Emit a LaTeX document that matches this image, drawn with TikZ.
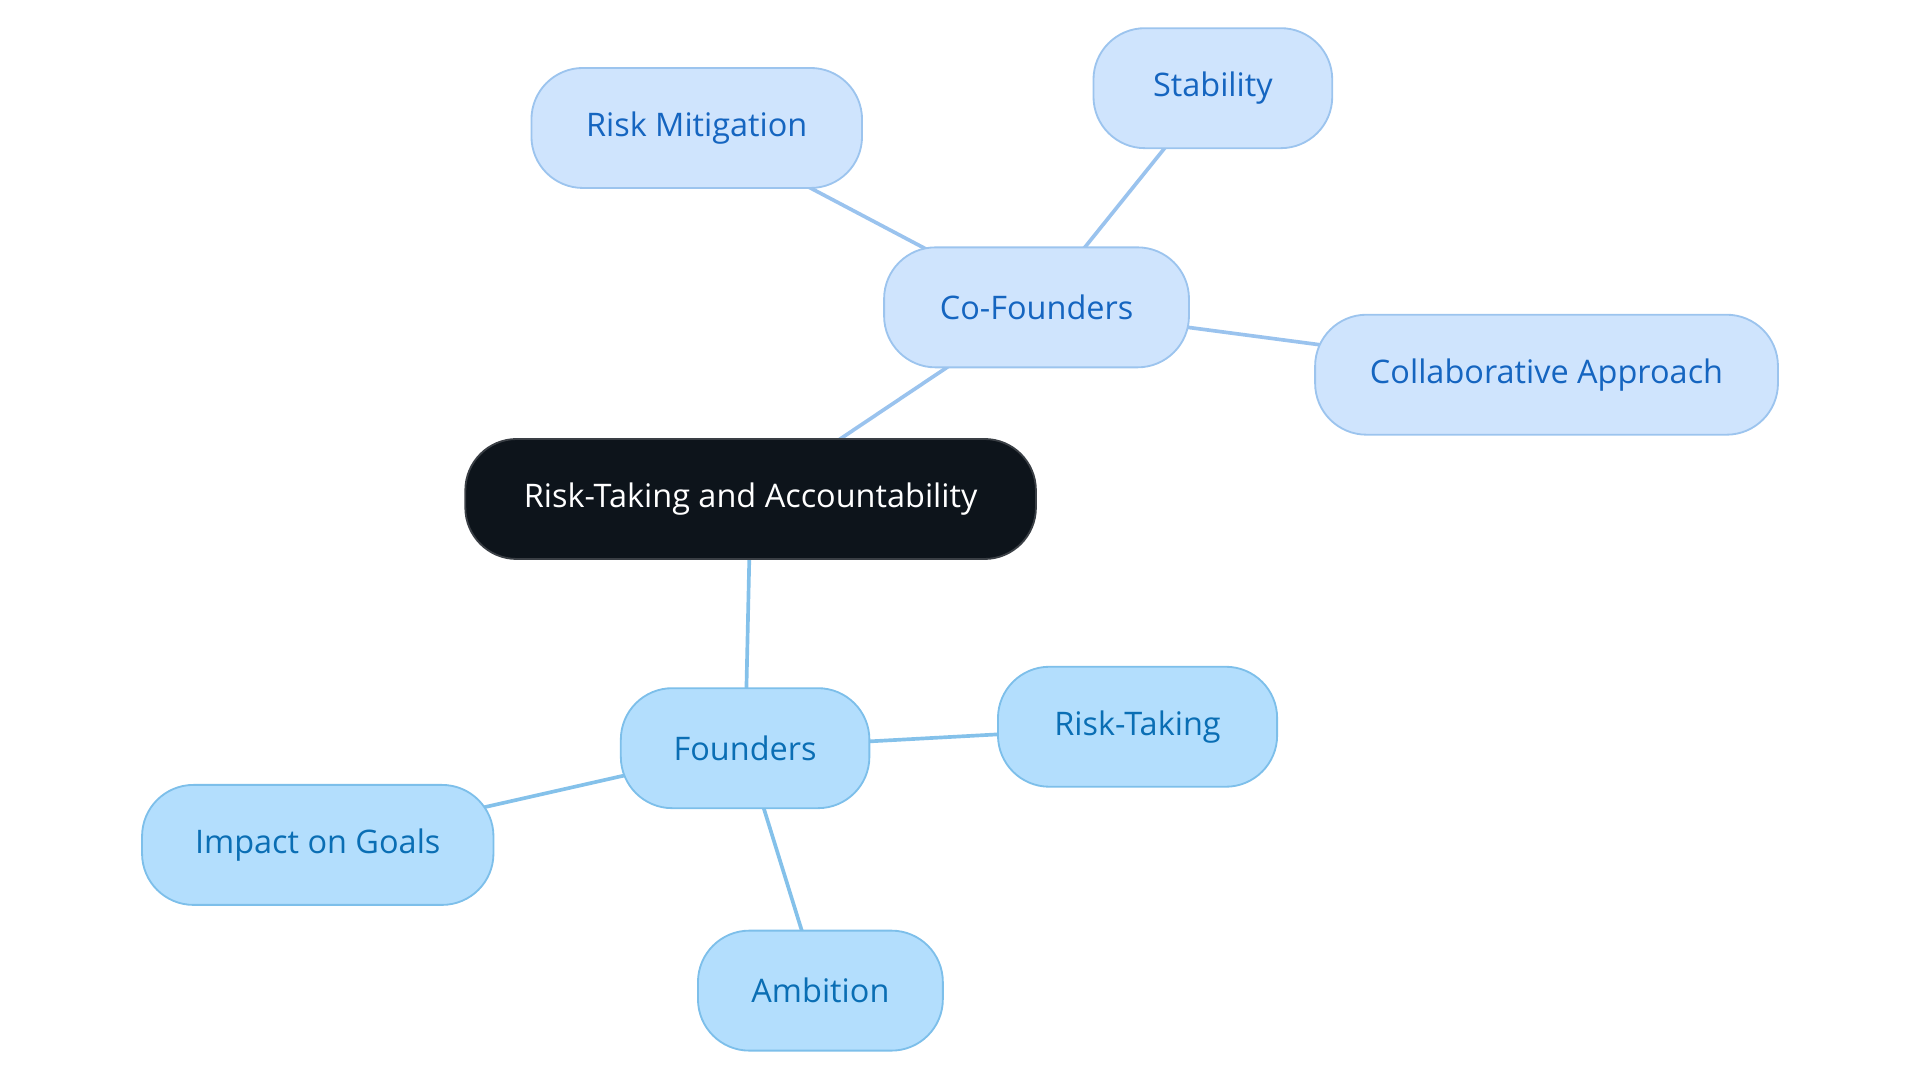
\documentclass[tikz,border=0pt]{standalone}
\usepackage{fontspec}
\setmainfont{Open Sans}
\usetikzlibrary{backgrounds}
\definecolor{rootfill}{HTML}{0D141B}
\definecolor{rootdraw}{HTML}{3A3F45}
\definecolor{cofill}{HTML}{CFE4FD}
\definecolor{codraw}{HTML}{9CC4EE}
\definecolor{cotext}{HTML}{1565C0}
\definecolor{fofill}{HTML}{B3DEFD}
\definecolor{fodraw}{HTML}{7DBFEA}
\definecolor{fotext}{HTML}{0A6EB4}
\definecolor{coline}{HTML}{9AC3EE}
\definecolor{foline}{HTML}{84C1EA}
\begin{document}
\begin{tikzpicture}[x=1pt,y=-1pt,
  box/.style={rectangle, rounded corners=42pt, minimum height=98pt, line width=1.5pt,
    font=\fontsize{26.5}{30}\selectfont, inner sep=0pt},
  rootbox/.style={box, fill=rootfill, draw=rootdraw, text=white},
  cobox/.style={box, fill=cofill, draw=codraw, text=cotext},
  fobox/.style={box, fill=fofill, draw=fodraw, text=fotext},
  coedge/.style={draw=coline, line width=3pt},
  foedge/.style={draw=foline, line width=3pt}]
\useasboundingbox (0,0) rectangle (1568,884.4);
\node[rootbox, minimum width=466pt] (root) at (613,407.5) {Risk-Taking and Accountability};
\node[cobox, minimum width=249pt] (cof) at (846.5,251) {Co-Founders};
\node[cobox, minimum width=270pt] (mit) at (569,104.5) {Risk Mitigation};
\node[cobox, minimum width=195pt] (stab) at (990.5,72) {Stability};
\node[cobox, minimum width=378pt] (collab) at (1263,306) {Collaborative Approach};
\node[fobox, minimum width=203pt] (fo) at (608.5,611) {Founders};
\node[fobox, minimum width=228pt] (rt) at (929,593.5) {Risk-Taking};
\node[fobox, minimum width=287pt] (imp) at (259.5,690) {Impact on Goals};
\node[fobox, minimum width=200pt] (amb) at (670,809) {Ambition};
\begin{scope}[on background layer]
\draw[coedge] (root.center) -- (cof.center);
\draw[coedge] (cof.center) -- (mit.center);
\draw[coedge] (cof.center) -- (stab.center);
\draw[coedge] (cof.center) -- (collab.center);
\draw[foedge] (root.center) -- (fo.center);
\draw[foedge] (fo.center) -- (rt.center);
\draw[foedge] (fo.center) -- (imp.center);
\draw[foedge] (fo.center) -- (amb.center);
\end{scope}
\end{tikzpicture}
\end{document}
